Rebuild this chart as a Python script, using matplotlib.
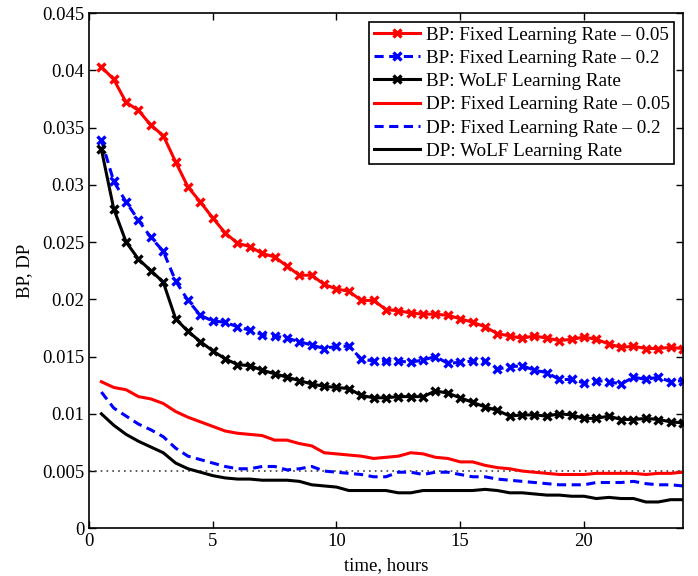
import numpy as np
import matplotlib
matplotlib.use("Agg")
import matplotlib.pyplot as plt
from matplotlib.ticker import FormatStrFormatter

plt.rcParams['font.family'] = ['Liberation Serif', 'DejaVu Serif']
plt.rcParams['mathtext.fontset'] = 'stix'

# time axis, every half hour
t = np.arange(1, 49) * 0.5

bp_fixed_005 = [0.0403, 0.0392, 0.0372, 0.0365, 0.0352, 0.0343, 0.0320, 0.0298,
                0.0285, 0.0271, 0.0258, 0.0249, 0.0246, 0.0240, 0.0237, 0.0229,
                0.0221, 0.0221, 0.0213, 0.0209, 0.0207, 0.0199, 0.0199, 0.0191,
                0.0190, 0.0188, 0.0187, 0.0187, 0.0186, 0.0183, 0.0180, 0.0176,
                0.0170, 0.0168, 0.0166, 0.0168, 0.0166, 0.0164, 0.0165, 0.0167,
                0.0165, 0.0161, 0.0158, 0.0159, 0.0157, 0.0157, 0.0158, 0.0157]
bp_fixed_02 = [0.0339, 0.0303, 0.0285, 0.0269, 0.0254, 0.0242, 0.0216, 0.0199,
               0.0186, 0.0181, 0.0180, 0.0176, 0.0173, 0.0169, 0.0168, 0.0166,
               0.0163, 0.0160, 0.0157, 0.0159, 0.0159, 0.0148, 0.0146, 0.0146,
               0.0146, 0.0145, 0.0147, 0.0150, 0.0144, 0.0145, 0.0146, 0.0146,
               0.0139, 0.0141, 0.0142, 0.0138, 0.0136, 0.0130, 0.0130, 0.0127,
               0.0129, 0.0128, 0.0126, 0.0132, 0.0130, 0.0132, 0.0128, 0.0129]
bp_wolf = [0.0331, 0.0279, 0.0250, 0.0235, 0.0225, 0.0215, 0.0183, 0.0172,
           0.0163, 0.0155, 0.0148, 0.0143, 0.0142, 0.0138, 0.0135, 0.0132,
           0.0129, 0.0126, 0.0124, 0.0123, 0.0122, 0.0116, 0.0114, 0.0114,
           0.0115, 0.0115, 0.0115, 0.0120, 0.0118, 0.0114, 0.0110, 0.0106,
           0.0103, 0.0098, 0.0099, 0.0099, 0.0098, 0.0100, 0.0099, 0.0096,
           0.0096, 0.0098, 0.0095, 0.0095, 0.0096, 0.0095, 0.0093, 0.0092]
dp_fixed_005 = [0.0128, 0.0123, 0.0121, 0.0115, 0.0113, 0.0109, 0.0102, 0.0097,
                0.0093, 0.0089, 0.0085, 0.0083, 0.0082, 0.0081, 0.0077, 0.0077,
                0.0074, 0.0072, 0.0066, 0.0065, 0.0064, 0.0063, 0.0061, 0.0062,
                0.0063, 0.0066, 0.0065, 0.0062, 0.0061, 0.0058, 0.0058, 0.0055,
                0.0053, 0.0052, 0.0050, 0.0049, 0.0048, 0.0047, 0.0047, 0.0047,
                0.0048, 0.0048, 0.0048, 0.0048, 0.0047, 0.0048, 0.0048, 0.0049]
dp_fixed_02 = [0.0119, 0.0105, 0.0098, 0.0091, 0.0086, 0.0080, 0.0070, 0.0063,
               0.0060, 0.0057, 0.0054, 0.0052, 0.0052, 0.0054, 0.0054, 0.0051,
               0.0052, 0.0054, 0.0050, 0.0049, 0.0048, 0.0047, 0.0045, 0.0045,
               0.0049, 0.0049, 0.0047, 0.0049, 0.0049, 0.0047, 0.0045, 0.0045,
               0.0043, 0.0042, 0.0041, 0.0040, 0.0039, 0.0038, 0.0038, 0.0038,
               0.0040, 0.0040, 0.0040, 0.0041, 0.0039, 0.0038, 0.0038, 0.0037]
dp_wolf = [0.0100, 0.0090, 0.0082, 0.0076, 0.0071, 0.0066, 0.0057, 0.0052,
           0.0049, 0.0046, 0.0044, 0.0043, 0.0043, 0.0042, 0.0042, 0.0042,
           0.0041, 0.0038, 0.0037, 0.0036, 0.0033, 0.0033, 0.0033, 0.0033,
           0.0031, 0.0031, 0.0033, 0.0033, 0.0033, 0.0033, 0.0033, 0.0034,
           0.0033, 0.0031, 0.0031, 0.0030, 0.0029, 0.0029, 0.0028, 0.0028,
           0.0026, 0.0027, 0.0026, 0.0026, 0.0023, 0.0023, 0.0025, 0.0025]
threshold = 0.005

labels = ["BP: Fixed Learning Rate \u2013 0.05", "BP: Fixed Learning Rate \u2013 0.2",
          "BP: WoLF Learning Rate", "DP: Fixed Learning Rate \u2013 0.05",
          "DP: Fixed Learning Rate \u2013 0.2", "DP: WoLF Learning Rate"]

size = 13.5
lw = 2.2
dash = (0, (3, 1.8))
fig = plt.figure(figsize=(6.98, 5.76), dpi=100)
ax = fig.add_axes([0.1275, 0.0828, 0.851, 0.8946])

ax.plot([0, 24], [threshold, threshold], color='0.25', ls=(0, (1, 2.5)), lw=1.2)

mk = dict(marker='x', ms=6, mew=2.4)
ax.plot(t, bp_fixed_005, color='#ff0000', lw=lw, label=labels[0], **mk)
ax.plot(t, bp_fixed_02, color='#0000ff', lw=lw, ls=dash, label=labels[1], **mk)
ax.plot(t, bp_wolf, color='k', lw=lw, label=labels[2], **mk)
ax.plot(t, dp_fixed_005, color='#ff0000', lw=lw, label=labels[3])
ax.plot(t, dp_fixed_02, color='#0000ff', lw=lw, ls=dash, label=labels[4])
ax.plot(t, dp_wolf, color='k', lw=lw, label=labels[5])

ax.set_xlim(0, 24)
ax.set_ylim(0, 0.045)
ax.set_xticks([0, 5, 10, 15, 20])
ax.set_yticks(np.arange(0, 0.0451, 0.005))
ax.yaxis.set_major_formatter(FormatStrFormatter('%g'))
ax.tick_params(direction='in', top=True, right=True, labelsize=size, length=5, width=1)
for s in ax.spines.values():
    s.set_linewidth(1.2)
ax.set_xlabel("time, hours", size=size, labelpad=5)
ax.set_ylabel("BP, DP", size=size, labelpad=6)

leg = ax.legend(loc='upper right', fontsize=13.8, handlelength=2.4, handletextpad=0.3,
                labelspacing=0.3, borderpad=0.25, borderaxespad=0.45, fancybox=False,
                framealpha=1, edgecolor='k')
leg.get_frame().set_linewidth(1.2)

plt.savefig('out.png', dpi=100)
